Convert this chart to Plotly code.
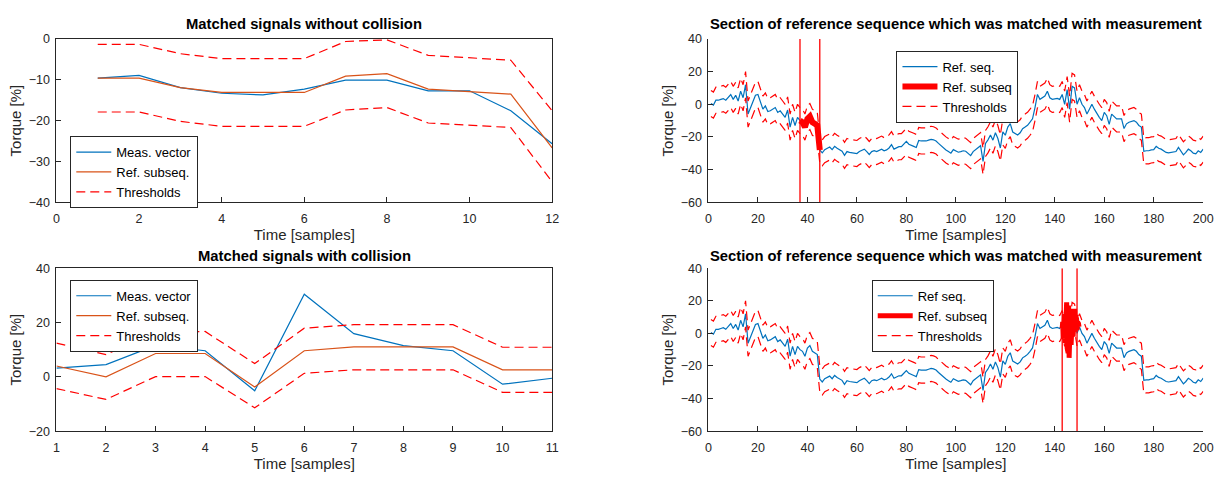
import plotly.graph_objects as go

# ---------------- data ----------------
# Top-left: matched signals without collision
tl_x = list(range(1, 13))
tl_meas = [-9.6, -8.9, -11.9, -13.3, -13.7, -12.3, -10.1, -10.1, -12.7, -12.7, -17.6, -25.7]
tl_ref = [-9.6, -9.6, -11.9, -13.1, -13.1, -13.1, -9.1, -8.5, -12.3, -12.9, -13.5, -26.7]
tl_up = [-1.3, -1.3, -3.6, -4.8, -4.8, -4.8, -0.6, -0.2, -4.0, -4.6, -5.2, -17.6]
tl_lo = [-17.9, -17.9, -20.2, -21.4, -21.4, -21.4, -17.4, -16.8, -20.6, -21.2, -21.7, -35.0]

# Bottom-left: matched signals with collision
bl_x = list(range(1, 12))
bl_meas = [3.2, 4.5, 11.6, 9.6, -5.1, 30.4, 15.9, 11.5, 9.6, -2.7, -0.5]
bl_ref = [4.0, 0.0, 8.6, 8.6, -3.7, 9.6, 11.0, 11.0, 11.0, 2.6, 2.6]
bl_up = [12.4, 8.2, 16.4, 16.7, 4.9, 17.9, 19.2, 19.2, 19.2, 10.9, 10.9]
bl_lo = [-4.3, -8.3, 0.1, 0.1, -11.4, 1.3, 2.6, 2.6, 2.6, -5.7, -5.7]

# Right: reference sequence (samples 1..200)
ref_seq = [
    0.5, -0.5, 2.5, 2.5, 3.0, 3.5, 2.5, 4.5, 6.0, 3.0,
    5.5, 2.0, 8.0, 4.0, 12.0, -6.0, -2.0, 2.0, 5.5, 6.0,
    2.0, -3.0, -1.0, -4.5, -4.0, -3.0, -2.0, -5.0, -4.0, -6.0,
    -8.0, -3.5, -14.0, -8.0, -13.0, -8.0, -10.0, -11.0, -14.0, -9.0,
    -7.5, -11.0, -12.0, -13.0, -28.0, -29.8, -27.8, -27.0, -26.2, -27.8,
    -25.8, -27.0, -28.0, -28.8, -31.3, -29.0, -29.5, -29.8, -30.0, -30.2,
    -29.0, -28.0, -27.5, -29.0, -30.8, -29.0, -28.5, -29.0, -28.0, -27.5,
    -28.5, -28.0, -26.8, -24.8, -27.5, -26.5, -26.0, -26.0, -24.5, -22.8,
    -24.5, -25.0, -25.8, -26.5, -22.2, -22.5, -22.5, -22.5, -22.0, -21.5,
    -21.8, -22.5, -24.0, -25.5, -27.0, -28.0, -29.0, -30.0, -27.8, -28.5,
    -29.4, -29.0, -28.5, -28.8, -30.0, -31.5, -29.0, -27.8, -26.5, -25.4,
    -35.0, -24.0, -21.8, -18.8, -22.0, -17.5, -21.0, -26.8, -16.9, -19.0,
    -14.0, -11.9, -17.0, -18.0, -18.8, -17.5, -15.0, -14.0, -12.9, -11.0,
    -8.9, -2.0, 6.0, 3.0, 4.0, 5.0, 8.0, 4.0, 3.0, 3.5,
    3.6, 3.0, 6.0, 0.0, 9.0, -3.0, 11.0, 10.0, 0.0, 4.0,
    0.0, -2.0, -6.0, -3.0, 0.0, -3.0, -6.0, -8.0, -10.0, -5.0,
    -7.0, -12.3, -6.0, -7.5, -9.0, -9.0, -9.0, -14.9, -12.0, -11.0,
    -10.5, -10.0, -11.0, -13.0, -14.0, -28.8, -28.5, -28.5, -28.0, -27.8,
    -25.8, -27.0, -27.5, -28.5, -29.5, -29.8, -29.5, -29.5, -29.0, -26.5,
    -29.0, -31.0, -29.5, -27.5, -28.5, -30.0, -30.4, -28.5, -29.5, -27.5,
]
ref_x = list(range(1, 201))
thr_margin = 8.0  # threshold band half-width

# top-right matched window
tr_win = [37, 45]
# bottom-right matched window and its (dense) subsequence
br_win = [143, 149]
br_sub_x = [143.0, 143.2, 143.4, 143.6, 143.8, 144.0, 144.2, 144.4, 144.6, 144.8,
            145.0, 145.2, 145.4, 145.6, 145.8, 146.0, 146.2, 146.4, 146.6, 146.8,
            147.0, 147.2, 147.4, 147.6, 147.8, 148.0, 148.2, 148.4, 148.6, 148.8,
            149.0, 149.2, 149.4, 149.6, 149.8, 150.0]
br_sub_y = [3, 7, -3, 9, -1, 12, -6, 14, -4, 19,
            -9, 16, -12, 17, -15, 14, -10, 15, -7, 13,
            -5, 14, -2, 12, 0, 15, 1, 11, 3, 9,
            2, 7, 3, 6, 4, 4]

titles = ["Matched signals without collision",
          "Section of reference sequence which was matched with measurement",
          "Matched signals with collision",
          "Section of reference sequence which was matched with measurement"]

# ---------------- styling ----------------
BLUE = "#0072BD"
ORANGE = "#D95319"
RED = "#FF0000"
AX = "#262626"
FONT = "Liberation Sans, Arial, sans-serif"
DASH = "9px,5px"

fig = go.Figure()

def add(x, y, xa, ya, color, width, name=None, legend=None, dash=None, show=True):
    fig.add_trace(go.Scatter(
        x=x, y=y, mode="lines", xaxis=xa, yaxis=ya,
        line=dict(color=color, width=width, dash=dash),
        name=name, showlegend=show and name is not None, legend=legend,
    ))

# top-left
add(tl_x, tl_meas, "x", "y", BLUE, 1.2, "Meas. vector", "legend")
add(tl_x, tl_ref, "x", "y", ORANGE, 1.2, "Ref. subseq.", "legend")
add(tl_x, tl_up, "x", "y", RED, 1.2, "Thresholds", "legend", DASH)
add(tl_x, tl_lo, "x", "y", RED, 1.2, None, None, DASH, False)

# bottom-left
add(bl_x, bl_meas, "x3", "y3", BLUE, 1.2, "Meas. vector", "legend3")
add(bl_x, bl_ref, "x3", "y3", ORANGE, 1.2, "Ref. subseq.", "legend3")
add(bl_x, bl_up, "x3", "y3", RED, 1.2, "Thresholds", "legend3", DASH)
add(bl_x, bl_lo, "x3", "y3", RED, 1.2, None, None, DASH, False)

up = [v + thr_margin for v in ref_seq]
lo = [v - thr_margin for v in ref_seq]

# top-right
tr_sx = ref_x[tr_win[0] - 1:tr_win[1]]
tr_sy = ref_seq[tr_win[0] - 1:tr_win[1]]
add(ref_x, ref_seq, "x2", "y2", BLUE, 1.2, "Ref. seq.", "legend2")
add(tr_sx, tr_sy, "x2", "y2", RED, 6, "Ref. subseq", "legend2")
add(ref_x, up, "x2", "y2", RED, 1.2, "Thresholds", "legend2", DASH)
add(ref_x, lo, "x2", "y2", RED, 1.2, None, None, DASH, False)
for xv in tr_win:
    add([xv, xv], [-60, 40], "x2", "y2", RED, 1.3, None, None, None, False)

# bottom-right
add(ref_x, ref_seq, "x4", "y4", BLUE, 1.2, "Ref seq.", "legend4")
add(br_sub_x, br_sub_y, "x4", "y4", RED, 5, "Ref. subseq", "legend4")
add(ref_x, up, "x4", "y4", RED, 1.2, "Thresholds", "legend4", DASH)
add(ref_x, lo, "x4", "y4", RED, 1.2, None, None, DASH, False)
for xv in br_win:
    add([xv, xv], [-60, 40], "x4", "y4", RED, 1.3, None, None, None, False)

W, H = 1231, 479
LX = [54 / W, 555 / W]
RX = [713 / W, 1213 / W]
TY = [1 - 201 / H, 1 - 33 / H]
BY = [1 - 437 / H, 1 - 269 / H]

def xaxis(dom, anchor, rng, dtick, tick0, mirror):
    return dict(domain=dom, anchor=anchor, range=rng, dtick=dtick, tick0=tick0,
                showline=True, linecolor=AX, linewidth=1, mirror=mirror,
                ticks="inside", ticklen=5, tickcolor=AX, showgrid=False,
                zeroline=False, ticklabelstandoff=5,
                tickfont=dict(size=12.5, color=AX, family=FONT),
                title=dict(text="Time [samples]", standoff=2,
                           font=dict(size=15, color=AX, family=FONT)))

def yaxis(dom, anchor, rng, dtick, mirror):
    return dict(domain=dom, anchor=anchor, range=rng, dtick=dtick,
                showline=True, linecolor=AX, linewidth=1, mirror=mirror,
                ticks="inside", ticklen=5, tickcolor=AX, showgrid=False,
                zeroline=False, ticklabelstandoff=3,
                tickfont=dict(size=12.5, color=AX, family=FONT),
                title=dict(text="Torque [%]", standoff=3,
                           font=dict(size=15, color=AX, family=FONT)))

def legend(x, y):
    return dict(x=x, y=y, xanchor="left", yanchor="top", bgcolor="white",
                bordercolor="#262626", borderwidth=1, itemwidth=35,
                font=dict(size=13, color="#000", family=FONT),
                tracegroupgap=0, itemclick=False)

annotations = []
centers = [((LX[0] + LX[1]) / 2, 1 - 17 / H), ((RX[0] + RX[1]) / 2, 1 - 17 / H),
           ((LX[0] + LX[1]) / 2, 1 - 256 / H), ((RX[0] + RX[1]) / 2, 1 - 256 / H)]
for t, (cx, cy) in zip(titles, centers):
    annotations.append(dict(text="<b>" + t + "</b>", x=cx, y=cy, xref="paper",
                            yref="paper", showarrow=False, xanchor="center",
                            yanchor="middle",
                            font=dict(size=14.8, color="#000", family=FONT)))

fig.update_layout(
    width=W, height=H, margin=dict(l=0, r=0, t=0, b=0),
    paper_bgcolor="white", plot_bgcolor="white",
    font=dict(family=FONT),
    xaxis=xaxis(LX, "y", [0, 12], 2, 0, True),
    yaxis=yaxis(TY, "x", [-40, 0], 10, True),
    xaxis2=xaxis(RX, "y2", [0, 200], 20, 0, False),
    yaxis2=yaxis(TY, "x2", [-60, 40], 20, False),
    xaxis3=xaxis(LX, "y3", [1, 11], 1, 1, True),
    yaxis3=yaxis(BY, "x3", [-20, 40], 20, True),
    xaxis4=xaxis(RX, "y4", [0, 200], 20, 0, False),
    yaxis4=yaxis(BY, "x4", [-60, 40], 20, False),
    legend=legend(68 / W, 1 - 133 / H),
    legend2=legend(903 / W, 1 - 45 / H),
    legend3=legend(68 / W, 1 - 281 / H),
    legend4=legend(878 / W, 1 - 281 / H),
    annotations=annotations,
)

fig.write_html("out.html")
